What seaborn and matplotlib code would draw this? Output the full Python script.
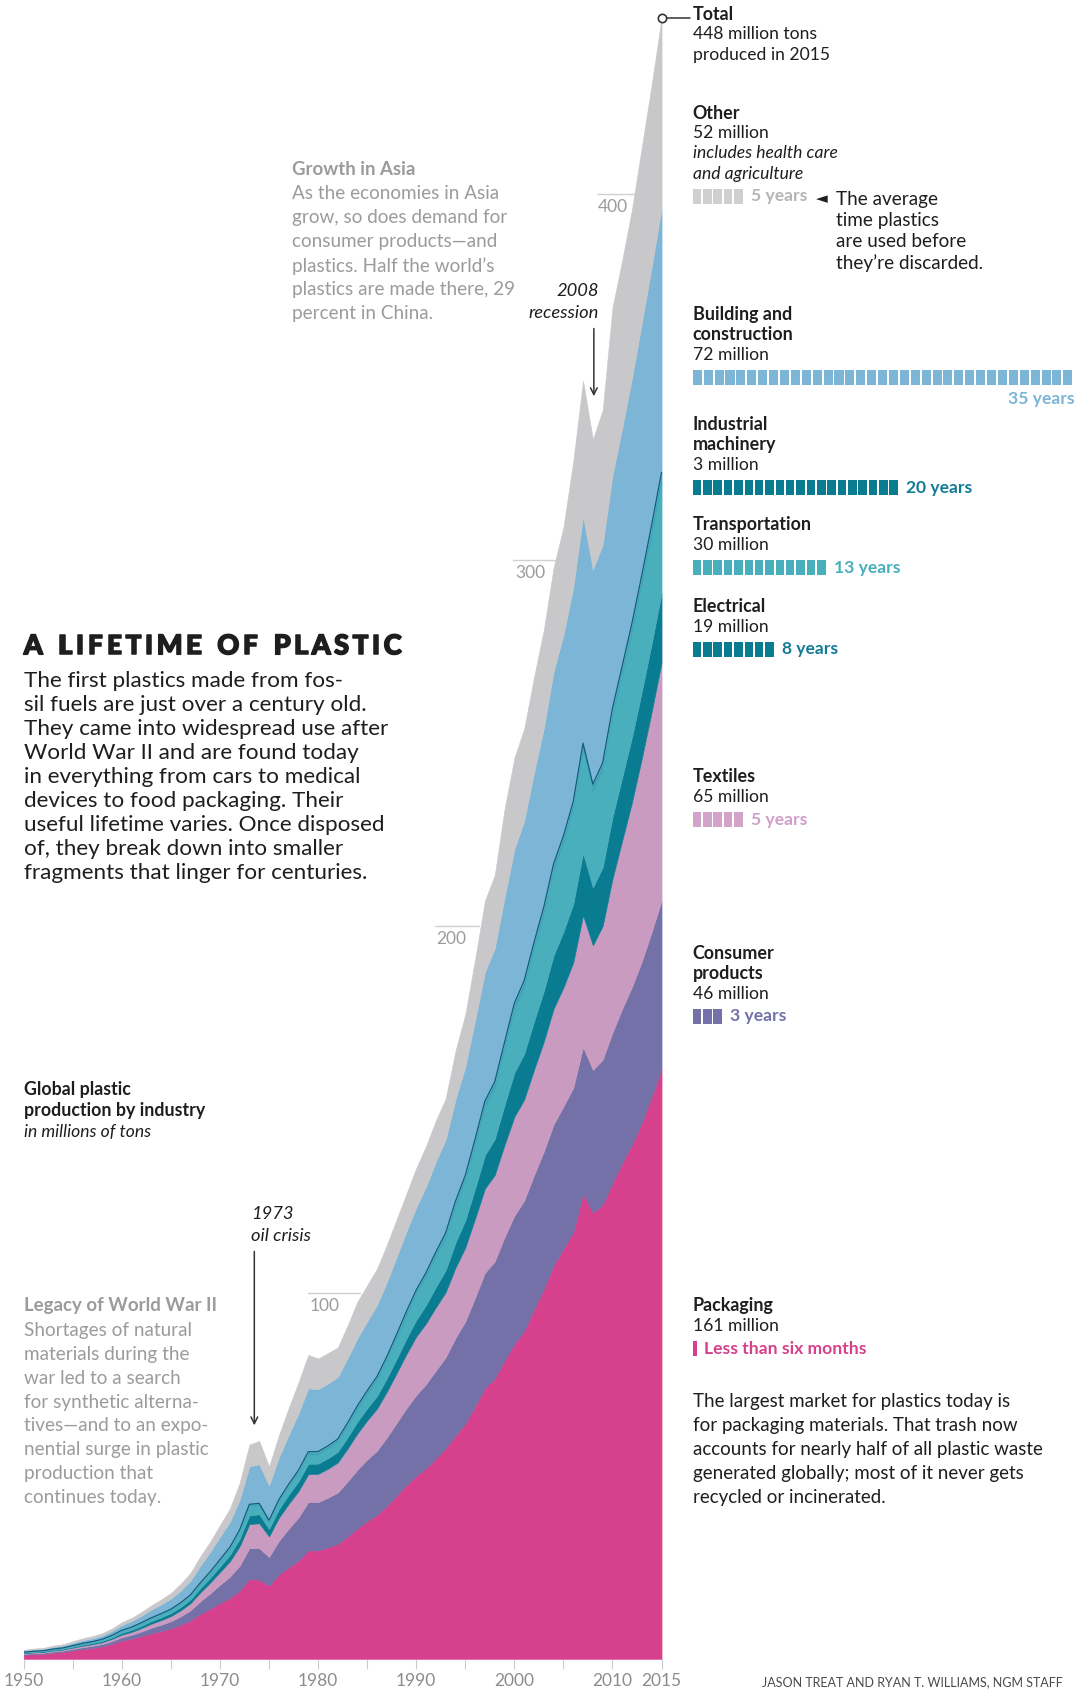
import numpy as np
import pandas as pd
import seaborn as sns
import matplotlib.pyplot as plt
import matplotlib.patheffects as pe

# global plastic production by industry, millions of tons
years = list(range(1950, 2016))

packaging = [1.10, 1.25, 1.36, 1.65, 1.86, 2.26, 2.66, 2.97, 3.40, 4.10,
             5.0, 5.5, 6.2, 7.0, 7.6, 8.3, 9.3, 10.5, 12.3, 13.7,
             15.2, 16.6, 18.6, 21.8, 21.6, 20.0, 23.0, 25.0, 26.8, 29.6,
             29.6, 30.4, 31.4, 33.4, 35.6, 37.6, 39.3, 41.8, 44.6, 47.4,
             50.0, 52.0, 54.7, 57.5, 61.0, 64.3, 69.0, 74.0, 76.5, 81.5,
             86.0, 89.5, 95.4, 101.0, 107.4, 112.0, 116.5, 127.0, 121.8, 124.0,
             130.0, 135.5, 140.5, 146.5, 153.5, 161.0]
consumer = [.25, .28, .29, .34, .37, .44, .51, .56, .63, .75,
            .90, 1.05, 1.25, 1.48, 1.70, 1.95, 2.30, 2.75, 3.40, 4.15,
            5.0, 5.8, 6.8, 8.4, 8.6, 7.8, 9.2, 10.5, 11.8, 13.2,
            13.2, 13.6, 14.0, 15.0, 16.0, 16.8, 17.5, 18.6, 19.8, 21.0,
            22.0, 23.0, 24.0, 24.8, 26.6, 27.8, 29.6, 31.4, 32.0, 33.6,
            35.0, 35.6, 36.6, 37.5, 38.5, 38.8, 39.4, 40.0, 39.0, 39.6,
            41.0, 42.0, 43.0, 44.0, 45.0, 46.0]
textiles = [.20, .22, .23, .27, .30, .35, .41, .45, .50, .59,
            .70, .80, .95, 1.10, 1.25, 1.42, 1.65, 1.95, 2.45, 2.95,
            3.5, 4.2, 5.3, 6.6, 6.8, 5.6, 6.3, 6.8, 7.2, 7.6,
            7.7, 7.9, 8.2, 9.0, 9.9, 10.7, 11.5, 12.5, 13.6, 14.8,
            16.0, 16.6, 17.3, 17.8, 19.2, 20.2, 21.6, 23.0, 23.6, 25.2,
            27.0, 27.6, 28.8, 30.0, 31.6, 32.5, 34.2, 36.0, 34.0, 36.5,
            42.0, 46.0, 50.5, 55.5, 60.2, 65.0]
electrical = [.10, .12, .13, .16, .18, .22, .26, .29, .33, .40,
              .50, .55, .62, .70, .76, .82, .90, 1.0, 1.15, 1.30,
              1.5, 1.7, 2.0, 2.4, 2.45, 2.05, 2.3, 2.5, 2.65, 2.85,
              2.8, 2.85, 2.9, 3.05, 3.2, 3.3, 3.45, 3.65, 3.9, 4.2,
              4.5, 5.0, 5.5, 6.0, 6.8, 7.4, 8.2, 9.1, 9.8, 10.9,
              12.0, 12.5, 13.2, 13.8, 14.6, 15.2, 16.0, 17.0, 15.8, 16.0,
              16.8, 17.3, 17.8, 18.2, 18.6, 19.0]
transportation = [.12, .14, .15, .18, .20, .24, .28, .31, .35, .42,
                  .50, .56, .63, .70, .76, .82, .90, 1.0, 1.15, 1.32,
                  1.5, 1.72, 2.05, 2.5, 2.5, 1.9, 2.1, 2.2, 2.3, 2.45,
                  2.4, 2.5, 2.6, 3.0, 3.4, 3.8, 4.3, 4.9, 5.6, 6.3,
                  7.0, 7.6, 8.3, 8.9, 9.9, 10.8, 11.9, 13.1, 13.9, 15.3,
                  17.0, 18.0, 19.6, 21.0, 23.0, 24.2, 26.0, 28.0, 26.2, 26.5,
                  27.5, 28.0, 28.6, 29.2, 29.6, 30.0]
industrial = [.05, .06, .06, .07, .08, .10, .11, .12, .14, .17,
              .20, .21, .22, .23, .24, .25, .27, .29, .32, .36,
              .40, .42, .45, .5, .5, .45, .55, .65, .75, .85,
              .9, .9, .92, .95, .98, 1.0, 1.02, 1.05, 1.1, 1.15,
              1.2, 1.25, 1.3, 1.35, 1.45, 1.5, 1.6, 1.7, 1.75, 1.85,
              2.0, 2.0, 2.0, 2.0, 2.0, 2.0, 2.0, 2.0, 2.0, 2.1,
              2.3, 2.4, 2.6, 2.7, 2.85, 3.0]
building = [.43, .46, .49, .57, .62, .72, .83, .91, 1.01, 1.18,
            1.40, 1.62, 1.90, 2.22, 2.52, 2.86, 3.30, 3.85, 4.65, 5.40,
            6.2, 6.9, 8.2, 10.3, 10.7, 9.5, 11.5, 13.4, 15.5, 17.3,
            17.0, 17.0, 16.9, 17.6, 18.4, 18.9, 19.5, 20.3, 21.1, 21.8,
            22.5, 23.5, 24.6, 25.4, 27.8, 29.6, 32.4, 35.2, 36.4, 39.5,
            42.0, 43.6, 46.2, 48.8, 52.5, 54.8, 58.4, 62.0, 58.6, 59.5,
            63.5, 65.0, 66.8, 68.8, 70.4, 72.0]
other = [.25, .27, .29, .36, .39, .47, .54, .59, .64, .69,
         .80, .91, 1.03, 1.17, 1.37, 1.58, 1.88, 2.16, 2.58, 2.82,
         3.2, 3.66, 4.6, 6.0, 6.35, 5.2, 6.05, 7.45, 8.5, 9.15,
         8.4, 8.35, 8.08, 9.0, 10.02, 9.9, 9.93, 10.2, 10.3, 10.35,
         10.8, 11.05, 11.3, 11.25, 13.25, 14.4, 16.7, 19.5, 20.05, 24.15,
         25.0, 25.2, 26.2, 26.9, 28.4, 29.5, 34.5, 37.0, 35.6, 36.8,
         45.9, 45.8, 46.2, 48.1, 49.85, 52.0]

sectors = ['Packaging', 'Consumer products', 'Textiles', 'Electrical',
           'Transportation', 'Industrial machinery', 'Building and construction', 'Other']
# average product lifetime in years
lifetimes = [0.5, 3, 5, 8, 13, 20, 35, 5]

x_ticks = [1950, 1960, 1970, 1980, 1990, 2000, 2010, 2015]
ref_vals = [100, 200, 300, 400]

df = pd.DataFrame({'year': years, 'Packaging': packaging, 'Consumer products': consumer,
                   'Textiles': textiles, 'Electrical': electrical, 'Transportation': transportation,
                   'Industrial machinery': industrial, 'Building and construction': building,
                   'Other': other})
total = df[sectors].sum(axis=1)

palette = {
    'Packaging': '#d6408c',
    'Consumer products': '#7371a8',
    'Textiles': '#c99bc0',
    'Electrical': '#0a7c92',
    'Transportation': '#4aafbd',
    'Industrial machinery': '#3fa6b6',
    'Building and construction': '#7cb5d6',
    'Other': '#c8c8ca',
}
block_col = dict(palette, **{'Industrial machinery': '#0a7c92', 'Other': '#cfcfcf',
                            'Textiles': '#d3a3ca'})
label_col = dict(palette, **{'Industrial machinery': '#127b96', 'Electrical': '#127b96',
                            'Other': '#b5b5b5', 'Textiles': '#cf9fc8'})

sns.set_theme(style='white')
plt.rcParams['font.family'] = ['Lato', 'DejaVu Sans']

BLACK = '#1e1e1e'
GRAY = '#9b9b9b'


def fx(x):
    return x / 1007


def fy(y):
    return 1 - y / 1568


fig = plt.figure(figsize=(10.85, 16.89), dpi=100)
ax = fig.add_axes([fx(22), fy(1540), 592 / 1007, 450 * 3.4 / 1568])

polys = ax.stackplot(df['year'], [df[s] for s in sectors],
                     colors=[palette[s] for s in sectors], linewidth=0.4)
for p, s in zip(polys, sectors):
    p.set_edgecolor(palette[s])

# dark line on top of the transportation / machinery band
ax.plot(df['year'], df[sectors[:6]].sum(axis=1), color='#0d5e7c', lw=0.9)

ax.set_xlim(1950, 2015)
ax.set_ylim(0, 450)
ax.set_yticks([])
ax.set_xticks(x_ticks)
ax.set_xticks(range(1955, 2015, 10), minor=True)
ax.tick_params(axis='x', which='both', bottom=True, length=7, width=0.8, color='#cccccc',
               direction='out', labelsize=12.5, labelcolor='#8c8c8c', pad=3)
sns.despine(ax=ax, left=True, bottom=True)
ax.patch.set_alpha(0)

# short value guides
ref_start = [1979.0, 1991.9, 1999.9, 2008.4]
ref_end = [1984.3, 1996.4, 2004.4, 2012.6]
for v, a, b in zip(ref_vals, ref_start, ref_end):
    ax.plot([a, b], [v, v], color='#d0d0d0', lw=1, zorder=0)
    ax.text(a + 0.15, v - 1.4, str(v), va='top', ha='left', fontsize=12.5,
            color='#9c9c9c')

# event arrows
arrow = dict(arrowstyle='->', color='#333333', lw=1.1, mutation_scale=12)
ax.annotate('', xy=(1973.5, 63), xytext=(1973.5, 112), arrowprops=arrow)
ax.annotate('', xy=(2008.1, 344), xytext=(2008.1, 364), arrowprops=arrow)
fig.text(fx(233), fy(1127), '1973', fontsize=13.2, style='italic', color=BLACK, va='center')
fig.text(fx(233), fy(1147), 'oil crisis', fontsize=13.2, style='italic', color=BLACK, va='center')
fig.text(fx(556), fy(270), '2008', fontsize=13.2, style='italic', color=BLACK, va='center', ha='right')
fig.text(fx(556), fy(291), 'recession', fontsize=13.2, style='italic', color=BLACK, va='center', ha='right')

# total marker
ax.plot([2015, 2017.9], [total.iloc[-1]] * 2, color='#333333', lw=1.1, clip_on=False)
ax.plot([2015], [total.iloc[-1]], 'o', ms=6, mfc='white', mec='#333333', mew=1.2, clip_on=False)

# title with letter spacing
renderer = fig.canvas.get_renderer()
xpos = 23.7
heavy = [pe.withStroke(linewidth=1.1, foreground=BLACK)]
for ch in 'A LIFETIME OF PLASTIC':
    t = fig.text(xpos / 1085, fy(600), ch, fontsize=19.6, fontweight='black',
                 color=BLACK, va='center', path_effects=heavy)
    w = t.get_window_extent(renderer).width if ch != ' ' else 9
    xpos += w + 3.3

intro = ['The first plastics made from fos-', 'sil fuels are just over a century old.',
         'They came into widespread use after', 'World War II and are found today',
         'in everything from cars to medical', 'devices to food packaging. Their',
         'useful lifetime varies. Once disposed', 'of, they break down into smaller',
         'fragments that linger for centuries.']
for i, line in enumerate(intro):
    fig.text(fx(22), fy(632 + i * 22.25), line, fontsize=16.2, color=BLACK, va='center')

fig.text(fx(22), fy(1011), 'Global plastic', fontsize=12.8, fontweight='bold', color=BLACK, va='center')
fig.text(fx(22), fy(1031), 'production by industry', fontsize=12.8, fontweight='bold', color=BLACK, va='center')
fig.text(fx(22), fy(1051), 'in millions of tons', fontsize=12.6, style='italic', color=BLACK, va='center')

fig.text(fx(271), fy(157), 'Growth in Asia', fontsize=13.4, fontweight='bold', color=GRAY, va='center')
asia = ['As the economies in Asia', 'grow, so does demand for', 'consumer products\u2014and',
        'plastics. Half the world\u2019s', 'plastics are made there, 29', 'percent in China.']
for i, line in enumerate(asia):
    fig.text(fx(271), fy(180 + i * 22.3), line, fontsize=13.6, color=GRAY, va='center')

fig.text(fx(22), fy(1212), 'Legacy of World War II', fontsize=13.4, fontweight='bold', color=GRAY, va='center')
war = ['Shortages of natural', 'materials during the', 'war led to a search',
       'for synthetic alterna-', 'tives\u2014and to an expo-', 'nential surge in plastic',
       'production that', 'continues today.']
for i, line in enumerate(war):
    fig.text(fx(22), fy(1235 + i * 22.2), line, fontsize=13.6, color=GRAY, va='center')

# right-hand labels
RX = 643
HEAD = 12.9
NORM = 12.6
fig.text(fx(RX), fy(13), 'Total', fontsize=HEAD, fontweight='bold', color=BLACK, va='center')
fig.text(fx(RX), fy(32), f'{total.iloc[-1]:.0f} million tons', fontsize=NORM, color=BLACK, va='center')
fig.text(fx(RX), fy(51), 'produced in 2015', fontsize=NORM, color=BLACK, va='center')

last = df[sectors].iloc[-1]
heads = {
    'Other': (['Other'], 105, ['includes health care', 'and agriculture']),
    'Building and construction': (['Building and', 'construction'], 292, []),
    'Industrial machinery': (['Industrial', 'machinery'], 394, []),
    'Transportation': (['Transportation'], 487, []),
    'Electrical': (['Electrical'], 563, []),
    'Textiles': (['Textiles'], 721, []),
    'Consumer products': (['Consumer', 'products'], 885, []),
    'Packaging': (['Packaging'], 1212, []),
}
for s, life in zip(sectors, lifetimes):
    names, y0, extra = heads[s]
    y = y0
    for n in names:
        fig.text(fx(RX), fy(y), n, fontsize=HEAD, fontweight='bold', color=BLACK, va='center')
        y += 18.7
    fig.text(fx(RX), fy(y), f'{last[s]:.0f} million', fontsize=NORM, color=BLACK, va='center')
    y += 18.7
    for e in extra:
        fig.text(fx(RX), fy(y), e, fontsize=NORM, style='italic', color=BLACK, va='center')
        y += 18.7
    yb = y + 2.5
    # lifetime blocks, one per year
    unit = 10.114 if life >= 35 else 9.6
    bax = fig.add_axes([fx(RX), fy(yb + 7), 35 * unit / 1007, 14 / 1568])
    starts = np.arange(int(np.ceil(life)))
    widths = np.minimum(1, life - starts) * 0.83
    bax.bar(starts, np.ones(len(starts)), width=widths, align='edge',
            color=block_col[s], linewidth=0)
    bax.set_xlim(0, 35)
    bax.set_ylim(0, 1)
    bax.axis('off')
    if life < 1:
        txt = 'Less than six months'
    else:
        txt = f'{life:g} years'
    if life >= 35:
        fig.text(fx(997), fy(yb + 20), txt, fontsize=12.6, fontweight='bold',
                 color=label_col[s], va='center', ha='right')
    else:
        fig.text(fx(RX + life * unit + 6), fy(yb), txt, fontsize=12.6,
                 fontweight='bold', color=label_col[s], va='center')

fig.text(fx(757), fy(184), '\u25c4', fontsize=11, color=BLACK, va='center',
         family=['DejaVu Sans'])
avg = ['The average', 'time plastics', 'are used before', 'they\u2019re discarded.']
for i, line in enumerate(avg):
    fig.text(fx(776), fy(185 + i * 19.7), line, fontsize=13.6, color=BLACK, va='center')

pack = ['The largest market for plastics today is', 'for packaging materials. That trash now',
        'accounts for nearly half of all plastic waste', 'generated globally; most of it never gets',
        'recycled or incinerated.']
for i, line in enumerate(pack):
    fig.text(fx(RX), fy(1301 + i * 22.3), line, fontsize=13.5, color=BLACK, va='center')

fig.text(fx(986), fy(1562), 'JASON TREAT AND RYAN T. WILLIAMS, NGM STAFF', fontsize=9,
         color='#4a4a4a', va='center', ha='right')

fig.savefig('out.png', dpi=100)
